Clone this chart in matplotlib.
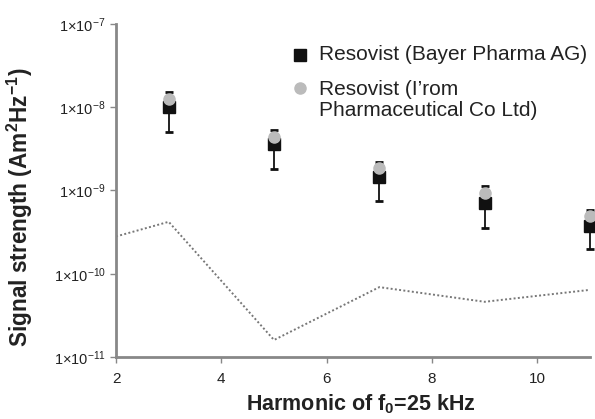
import matplotlib
matplotlib.use("Agg")
import matplotlib.pyplot as plt
from matplotlib.lines import Line2D

plt.rcParams['font.family'] = ['Liberation Sans', 'DejaVu Sans']
plt.rcParams['mathtext.fontset'] = 'custom'
plt.rcParams['mathtext.rm'] = 'Liberation Sans'
plt.rcParams['mathtext.it'] = 'Liberation Sans'
plt.rcParams['mathtext.bf'] = 'Liberation Sans:bold'

# data
harmonic = [3, 5, 7, 9, 11]
bayer = [1.0e-8, 3.6e-9, 1.44e-9, 7.0e-10, 3.7e-10]
bayer_hi = [1.53e-8, 5.3e-9, 2.22e-9, 1.12e-9, 5.9e-10]
bayer_lo = [5.0e-9, 1.8e-9, 7.4e-10, 3.5e-10, 2.0e-10]
irom = [1.25e-8, 4.35e-9, 1.85e-9, 9.2e-10, 5.0e-10]

noise_h = [2, 3, 5, 7, 9, 11]
noise = [2.8e-10, 4.2e-10, 1.6e-11, 6.9e-11, 4.6e-11, 6.4e-11]

labels = ['Resovist (Bayer Pharma AG)', 'Resovist (I\u2019rom\nPharmaceutical Co Ltd)']
yticks = [1e-11, 1e-10, 1e-9, 1e-8, 1e-7]
ytick_labels = [r'$1{\times}10^{-11}$', r'$1{\times}10^{-10}$', r'$1{\times}10^{-9}$',
                r'$1{\times}10^{-8}$', r'$1{\times}10^{-7}$']
xticks = [2, 4, 6, 8, 10]

fig = plt.figure(figsize=(5.95, 4.19), dpi=100)
ax = fig.add_axes([0.195, 0.148, 0.7966, 0.795])

ax.plot(noise_h, noise, linestyle=(0, (1, 1.2)), color='#777777', lw=1.4)

err = [[b - l for b, l in zip(bayer, bayer_lo)], [h - b for b, h in zip(bayer, bayer_hi)]]
ax.errorbar(harmonic, bayer, yerr=err, fmt='none', ecolor='#111111', elinewidth=1.3,
            capsize=3, capthick=2, zorder=3, clip_on=False)
ax.plot(harmonic, bayer, 's', color='#111111', ms=8.5, zorder=4, clip_on=False)
ax.plot(harmonic, irom, 'o', color='#bbbbbb', ms=8, zorder=5, clip_on=False)

ax.set_yscale('log')
ax.set_ylim(1e-11, 1e-7)
ax.set_xlim(2, 11)
ax.set_yticks(yticks)
ax.set_yticklabels(ytick_labels, fontsize=10.5)
ax.minorticks_off()
ax.set_xticks(xticks)
ax.set_xticklabels([str(t) for t in xticks], fontsize=11)

for s in ['top', 'right']:
    ax.spines[s].set_visible(False)
for s in ['left', 'bottom']:
    ax.spines[s].set_color('#888888')
    ax.spines[s].set_linewidth(2)
ax.tick_params(axis='both', colors='#888888', labelcolor='#222222', length=4, width=1)
ax.tick_params(axis='x', pad=7)

ax.set_xlabel(r'Harmonic of f$_\mathbf{0}$=25 kHz', fontsize=15.5, fontweight='bold',
              color='#222222')
ax.xaxis.set_label_coords(0.517, -0.105)
ax.set_ylabel(r'Signal strength (Am$^\mathbf{2}$Hz$^\mathbf{-1}$)', fontsize=16.3,
              fontweight='bold', color='#222222')
ax.yaxis.set_label_coords(-0.172, 0.45)

# legend drawn by hand so the marker sits on the first text line
W, H = 595, 419
fig.add_artist(Line2D([300 / W], [1 - 55 / H], marker='s', color='#111111', ls='none', ms=8))
fig.add_artist(Line2D([300 / W], [1 - 88 / H], marker='o', color='#bbbbbb', ls='none', ms=8))
fig.text(319 / W, 1 - 55 / H, labels[0], fontsize=15, color='#222222', va='center')
fig.text(319 / W, 1 - 80 / H, labels[1], fontsize=15, color='#222222', va='top',
         linespacing=1.12)

fig.savefig('out.png', dpi=100)
